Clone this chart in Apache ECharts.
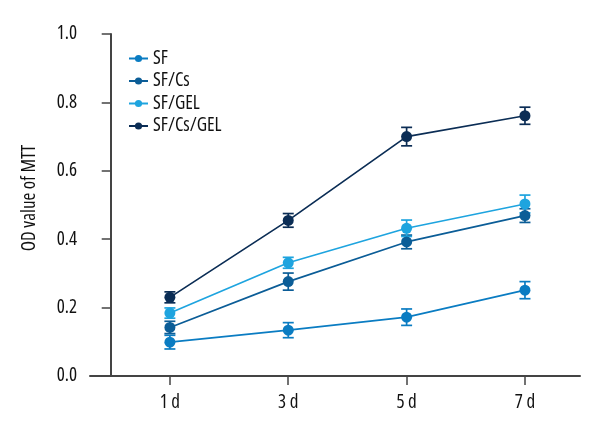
<!DOCTYPE html>
<html><head><meta charset="utf-8">
<script src="https://cdn.jsdelivr.net/npm/echarts@6/dist/echarts.min.js"></script>
<style>html,body{margin:0;padding:0;background:#fff}#c{width:600px;height:440px}</style>
</head><body><div id="c"></div>
<script>
var days = [1, 3, 5, 7];
var dayLabels = ['1 d', '3 d', '5 d', '7 d'];
var seriesNames = ['SF', 'SF/Cs', 'SF/GEL', 'SF/Cs/GEL'];
var sfMean = [0.099, 0.134, 0.172, 0.251];
var sfErr = [0.02, 0.022, 0.024, 0.025];
var sfCsMean = [0.142, 0.276, 0.392, 0.469];
var sfCsErr = [0.018, 0.025, 0.02, 0.02];
var sfGelMean = [0.184, 0.331, 0.432, 0.503];
var sfGelErr = [0.015, 0.016, 0.024, 0.026];
var sfCsGelMean = [0.230, 0.455, 0.700, 0.761];
var sfCsGelErr = [0.016, 0.02, 0.027, 0.025];
var colors = ['#0a7cc2', '#0b5d97', '#1ea4df', '#0b2d55'];

var means = [sfMean, sfCsMean, sfGelMean, sfCsGelMean];
var errs = [sfErr, sfCsErr, sfGelErr, sfCsGelErr];
var FONT = '"Open Sans", sans-serif';
var TXT = { fontFamily: FONT, fontStyle: 'condensed', fontSize: 19, color: '#111' };

var series = [];
means.forEach(function (m, i) {
  series.push({
    name: seriesNames[i], type: 'line',
    data: days.map(function (d, k) { return [d, m[k]]; }),
    symbol: 'circle', symbolSize: 11,
    itemStyle: { color: colors[i] },
    lineStyle: { color: colors[i], width: 1.7 },
    z: 3
  });
  series.push({
    name: seriesNames[i], type: 'custom',
    data: days.map(function (d, k) { return [d, m[k] - errs[i][k], m[k] + errs[i][k]]; }),
    renderItem: function (params, api) {
      var lo = api.coord([api.value(0), api.value(1)]);
      var hi = api.coord([api.value(0), api.value(2)]);
      var w = 5.5;
      var st = { stroke: colors[i], lineWidth: 1.7 };
      return { type: 'group', children: [
        { type: 'line', shape: { x1: lo[0], y1: lo[1], x2: hi[0], y2: hi[1] }, style: st },
        { type: 'line', shape: { x1: lo[0] - w, y1: lo[1], x2: lo[0] + w, y2: lo[1] }, style: st },
        { type: 'line', shape: { x1: hi[0] - w, y1: hi[1], x2: hi[0] + w, y2: hi[1] }, style: st }
      ]};
    },
    encode: { x: 0, y: [1, 2] },
    z: 2
  });
});

var chart = echarts.init(document.getElementById('c'));
chart.setOption({
  animation: false,
  textStyle: { fontFamily: FONT },
  grid: { left: 90, right: 20, top: 34, bottom: 64, containLabel: false, outerBoundsMode: 'none' },
  legend: {
    data: seriesNames, orient: 'vertical', left: 128, top: 49, padding: 0,
    itemWidth: 19, itemHeight: 9, itemGap: 3.5,
    textStyle: TXT
  },
  xAxis: {
    type: 'value', min: -0.35, max: 7.93,
    splitLine: { show: false },
    axisLine: { lineStyle: { color: '#444', width: 2 } },
    axisTick: { show: true, length: 9, lineStyle: { color: '#444', width: 1.5 }, customValues: days },
    axisLabel: Object.assign({
      customValues: days, margin: 17,
      formatter: function (v) { var k = days.indexOf(v); return k >= 0 ? dayLabels[k] : ''; }
    }, TXT)
  },
  yAxis: {
    type: 'value', min: 0, max: 1, interval: 0.2,
    name: 'OD value of MTT', nameLocation: 'middle', nameGap: 51, nameRotate: 90,
    nameTextStyle: Object.assign({ padding: [0, 0, 0, 14] }, TXT),
    splitLine: { show: false },
    axisLine: { show: true, lineStyle: { color: '#444', width: 2 } },
    axisTick: { show: true, length: 9, lineStyle: { color: '#444', width: 1.5 } },
    axisLabel: Object.assign({
      margin: 13,
      formatter: function (v) { return v.toFixed(1); }
    }, TXT)
  },
  series: series
});
</script></body></html>
